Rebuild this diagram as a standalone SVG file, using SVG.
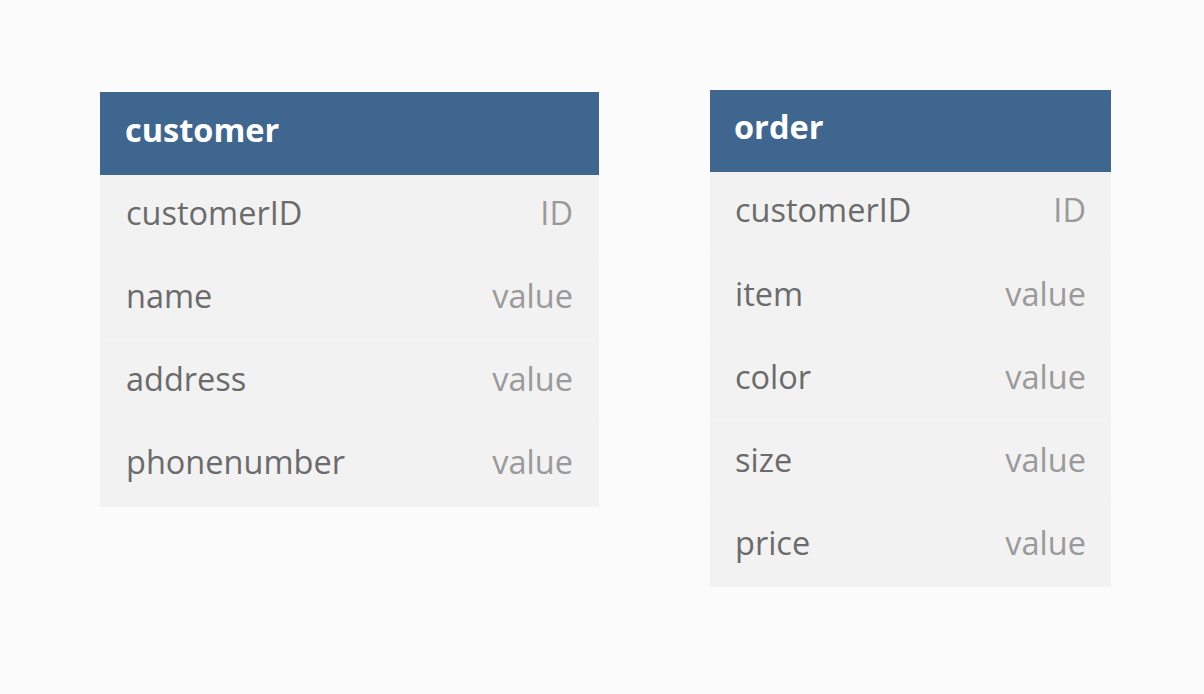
<svg xmlns="http://www.w3.org/2000/svg" width="1204" height="694" viewBox="0 0 1204 694">
<style>
.hdr{fill:#3f668f}
.body{fill:#f2f2f2}
.sep{stroke:#f5f5f5;stroke-width:1}
.title{font-family:"Open Sans",sans-serif;font-weight:bold;font-size:32.5px;fill:#ffffff}
.name{font-family:"Open Sans",sans-serif;font-size:32.5px;fill:#6b6b6b}
.val{font-family:"Open Sans",sans-serif;font-size:32.5px;fill:#9a9a9a;text-anchor:end}
</style>
<rect width="1204" height="694" fill="#fbfbfb"/>
<g id="customer">
<rect class="body" x="100" y="175" width="499" height="332"/>
<rect class="hdr" x="100" y="92" width="499" height="83"/>
<line class="sep" x1="100" y1="257.5" x2="599" y2="257.5"/>
<line class="sep" x1="100" y1="340.5" x2="599" y2="340.5"/>
<line class="sep" x1="100" y1="423.5" x2="599" y2="423.5"/>
<text class="title" x="125" y="142">customer</text>
<text class="name" x="126" y="225">customerID</text><text class="val" x="573" y="225">ID</text>
<text class="name" x="126" y="308">name</text><text class="val" x="573" y="308">value</text>
<text class="name" x="126" y="391">address</text><text class="val" x="573" y="391">value</text>
<text class="name" x="126" y="474">phonenumber</text><text class="val" x="573" y="474">value</text>
</g>
<g id="order">
<rect class="body" x="710" y="172" width="401" height="415"/>
<rect class="hdr" x="710" y="90" width="401" height="82"/>
<line class="sep" x1="710" y1="254.5" x2="1111" y2="254.5"/>
<line class="sep" x1="710" y1="337.5" x2="1111" y2="337.5"/>
<line class="sep" x1="710" y1="420.5" x2="1111" y2="420.5"/>
<line class="sep" x1="710" y1="503.5" x2="1111" y2="503.5"/>
<text class="title" x="734" y="139">order</text>
<text class="name" x="735" y="222">customerID</text><text class="val" x="1086" y="222">ID</text>
<text class="name" x="735" y="306">item</text><text class="val" x="1086" y="306">value</text>
<text class="name" x="735" y="389">color</text><text class="val" x="1086" y="389">value</text>
<text class="name" x="735" y="472">size</text><text class="val" x="1086" y="472">value</text>
<text class="name" x="735" y="555">price</text><text class="val" x="1086" y="555">value</text>
</g>
<g id="connectors"></g>
</svg>
